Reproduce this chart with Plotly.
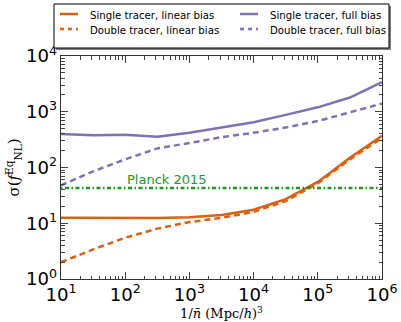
import plotly.graph_objects as go

# 1/nbar (Mpc/h)^3, half-decade grid
nbar_inv = [1e1, 10**1.5, 1e2, 10**2.5, 1e3, 10**3.5, 1e4, 10**4.5, 1e5, 10**5.5, 1e6]

single_linear = [12.5, 12.5, 12.5, 12.4, 12.8, 14.0, 17.5, 27.0, 55.0, 150.0, 370.0]
double_linear = [2.0, 3.4, 5.5, 8.0, 10.5, 12.5, 16.0, 25.0, 52.0, 140.0, 340.0]
single_full = [400, 380, 385, 355, 420, 520, 650, 880, 1200, 1800, 3400]
double_full = [48, 85, 140, 220, 275, 350, 420, 520, 680, 980, 1400]

planck_2015 = 43.0

orange = '#dd6010'
purple = '#7b72b8'
green = '#1a9a1a'
dash_style = '6px,4px'

# plot area in pixels (used to place the hand drawn legend)
W, H = 401, 322
L, R, T, B = 61, 19, 56, 43
pw, ph = W - L - R, H - T - B


def px(x):
    return (x - L) / pw


def py(y):
    return (H - B - y) / ph


fig = go.Figure()

fig.add_trace(go.Scatter(x=nbar_inv, y=single_linear, mode='lines',
                         name='Single tracer, linear bias',
                         line=dict(color=orange, width=2.5)))
fig.add_trace(go.Scatter(x=nbar_inv, y=double_linear, mode='lines',
                         name='Double tracer, linear bias',
                         line=dict(color=orange, width=2.5, dash=dash_style)))
fig.add_trace(go.Scatter(x=nbar_inv, y=single_full, mode='lines',
                         name='Single tracer, full bias',
                         line=dict(color=purple, width=2.5)))
fig.add_trace(go.Scatter(x=nbar_inv, y=double_full, mode='lines',
                         name='Double tracer, full bias',
                         line=dict(color=purple, width=2.5, dash=dash_style)))
fig.add_trace(go.Scatter(x=[nbar_inv[0], nbar_inv[-1]], y=[planck_2015, planck_2015],
                         mode='lines', name='Planck 2015',
                         line=dict(color=green, width=2.5, dash='1.5px,2.5px,4px,2.5px')))

fig.add_annotation(x=2.0, y=1.62, xref='x', yref='y', text='Planck 2015',
                   showarrow=False, xanchor='left', yanchor='bottom',
                   font=dict(color=green, size=13, family='DejaVu Sans'))

# legend box (matplotlib style, with shadow), drawn with shapes so it does not push the margins
fig.add_shape(type='rect', xref='paper', yref='paper',
              x0=px(56), x1=px(391), y0=py(50), y1=py(6),
              fillcolor='#7f7f7f', line=dict(width=0), layer='above')
fig.add_shape(type='rect', xref='paper', yref='paper',
              x0=px(54), x1=px(389), y0=py(48), y1=py(4),
              fillcolor='white', line=dict(color='black', width=1), layer='above')

legend_entries = [
    ('Single tracer, linear bias', orange, 'solid', 60, 14),
    ('Double tracer, linear bias', orange, '4px,4px', 60, 29),
    ('Single tracer, full bias', purple, 'solid', 240, 14),
    ('Double tracer, full bias', purple, '4px,4px', 240, 29),
]
for label, color, dash, lx, ly in legend_entries:
    fig.add_shape(type='line', xref='paper', yref='paper',
                  x0=px(lx), x1=px(lx + 18), y0=py(ly), y1=py(ly),
                  line=dict(color=color, width=2.5, dash=dash), layer='above')
    fig.add_shape(type='rect', xref='paper', yref='paper',
                  x0=px(lx + 24), x1=px(lx + 150), y0=py(ly + 6), y1=py(ly - 6),
                  line=dict(width=0), fillcolor='rgba(0,0,0,0)', layer='above',
                  label=dict(text=label, textposition='middle left',
                             font=dict(family='DejaVu Sans', size=10.2, color='black')))

axis_common = dict(
    type='log', dtick=1, exponentformat='power', showgrid=False, zeroline=False,
    automargin=False,
    ticks='inside', ticklen=7, tickwidth=1, mirror='allticks',
    showline=True, linecolor='#333333', linewidth=1,
    tickfont=dict(family='DejaVu Sans', size=14.5, color='black'),
    labelalias={'1': '10<sup>0</sup>', '10': '10<sup>1</sup>'},
    minor=dict(ticks='inside', ticklen=3.5, tickwidth=0.8, showgrid=False),
)

fig.update_xaxes(range=[1, 6],
                 title=dict(text='1/<i>n̄</i> (Mpc/<i>h</i>)<sup>3</sup>',
                            font=dict(family='DejaVu Serif', size=13), standoff=4),
                 **axis_common)
fig.update_yaxes(range=[0, 4],
                 title=dict(text='σ(<i>f</i><sup>Eq</sup><sub>NL</sub>)',
                            font=dict(family='DejaVu Serif', size=15), standoff=2),
                 **axis_common)

fig.update_layout(
    width=W, height=H,
    margin=dict(l=L, r=R, t=T, b=B),
    paper_bgcolor='white', plot_bgcolor='white',
    font=dict(family='DejaVu Sans', size=11, color='black'),
    showlegend=False,
)

# drop the browser's default body margin so the figure sits at the page corner
fig.write_html('out.html', config={'displayModeBar': False},
               post_script="document.body.style.margin='0';")
